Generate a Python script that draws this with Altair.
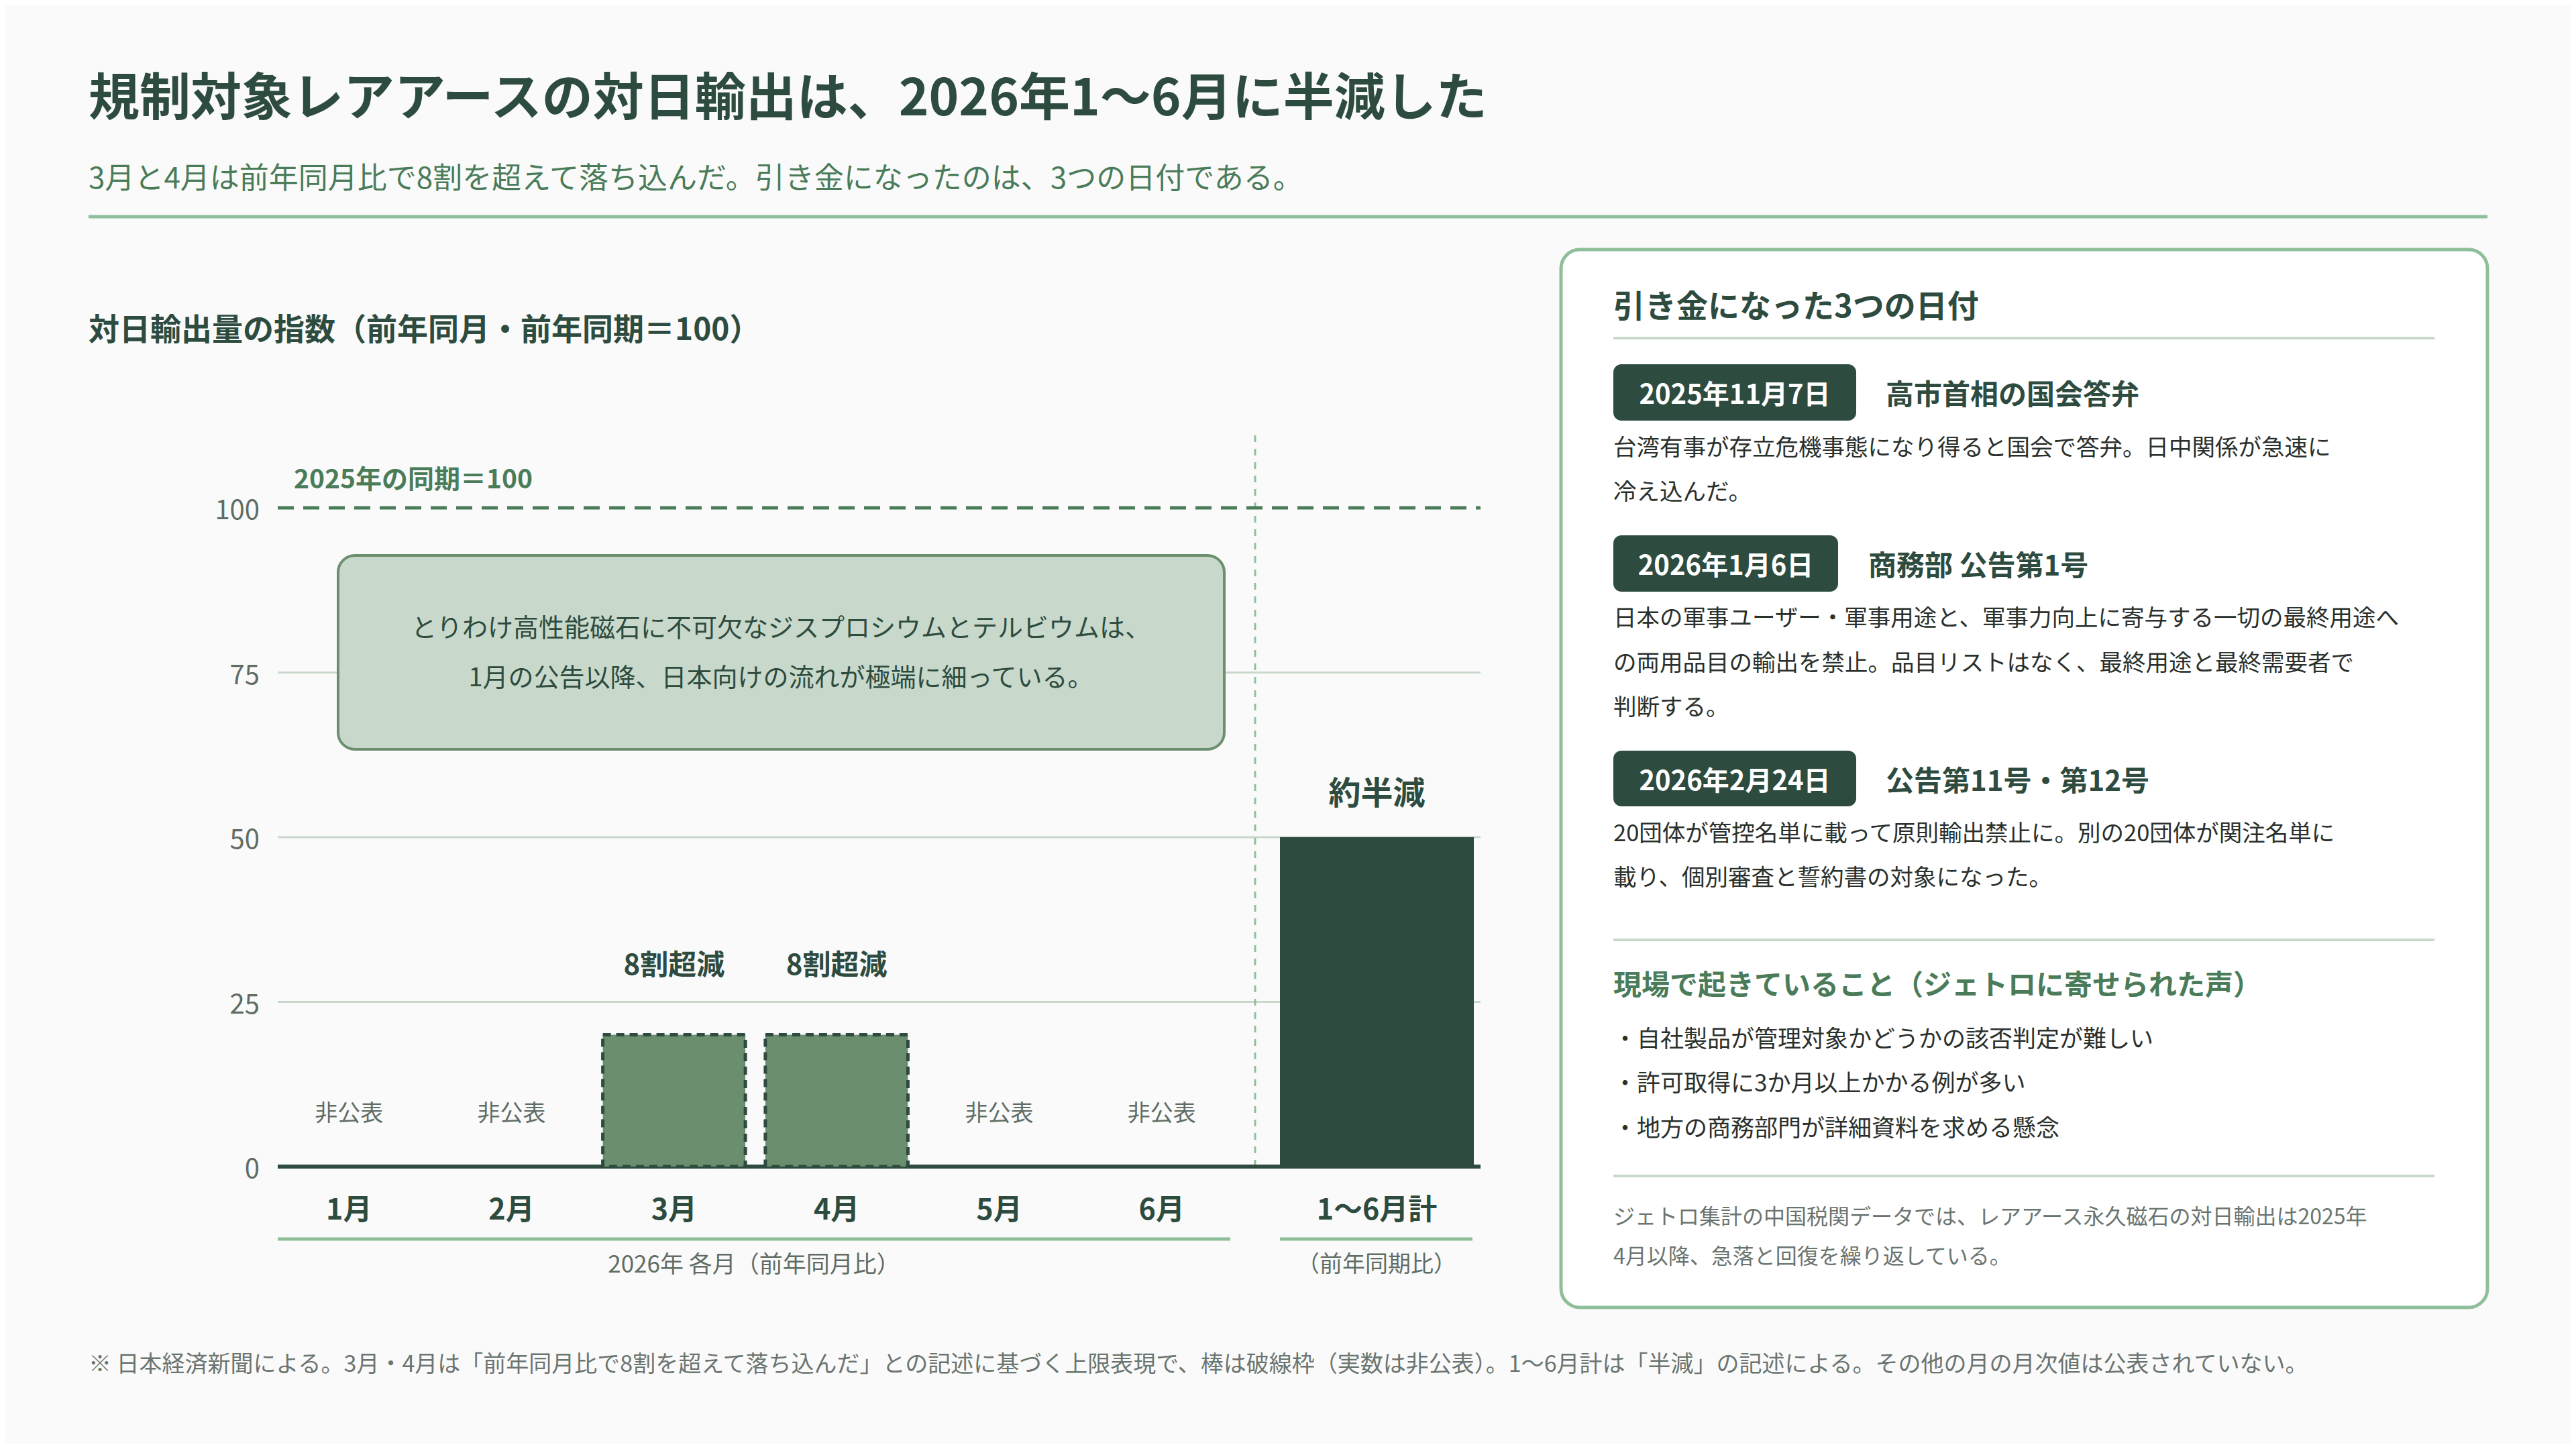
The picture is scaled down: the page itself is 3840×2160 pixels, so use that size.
import altair as alt
import pandas as pd

# ---------------- data ----------------
TITLE = "規制対象レアアースの対日輸出は、2026年1〜6月に半減した"
SUBTITLE = "3月と4月は前年同月比で8割を超えて落ち込んだ。引き金になったのは、3つの日付である。"
CHART_HEADING = "対日輸出量の指数（前年同月・前年同期＝100）"

MONTHS = ["1月", "2月", "3月", "4月", "5月", "6月"]
MONTH_INDEX = [None, None, 20, 20, None, None]
MONTH_STATUS = ["非公表", "非公表", "8割超減", "8割超減", "非公表", "非公表"]

TOTAL_LABEL = ["1〜6月計"]
TOTAL_INDEX = [50]
TOTAL_STATUS = ["約半減"]

Y_TICKS = [0, 25, 50, 75, 100]
BASE_LABEL = "2025年の同期＝100"
MONTH_GROUP = "2026年 各月（前年同月比）"
TOTAL_GROUP = "（前年同期比）"
CALLOUT = [
    "とりわけ高性能磁石に不可欠なジスプロシウムとテルビウムは、",
    "1月の公告以降、日本向けの流れが極端に細っている。",
]

PANEL_TITLE = "引き金になった3つの日付"
EVENT_DATES = ["2025年11月7日", "2026年1月6日", "2026年2月24日"]
EVENT_TITLES = ["高市首相の国会答弁", "商務部 公告第1号", "公告第11号・第12号"]
EVENT_BODIES = [
    ["台湾有事が存立危機事態になり得ると国会で答弁。日中関係が急速に", "冷え込んだ。"],
    ["日本の軍事ユーザー・軍事用途と、軍事力向上に寄与する一切の最終用途へ",
     "の両用品目の輸出を禁止。品目リストはなく、最終用途と最終需要者で",
     "判断する。"],
    ["20団体が管控名単に載って原則輸出禁止に。別の20団体が関注名単に",
     "載り、個別審査と誓約書の対象になった。"],
]
VOICES_TITLE = "現場で起きていること（ジェトロに寄せられた声）"
VOICES = [
    "・自社製品が管理対象かどうかの該否判定が難しい",
    "・許可取得に3か月以上かかる例が多い",
    "・地方の商務部門が詳細資料を求める懸念",
]
PANEL_NOTE = [
    "ジェトロ集計の中国税関データでは、レアアース永久磁石の対日輸出は2025年",
    "4月以降、急落と回復を繰り返している。",
]
FOOTNOTE = ("※ 日本経済新聞による。3月・4月は「前年同月比で8割を超えて落ち込んだ」との記述に基づく"
            "上限表現で、棒は破線枠（実数は非公表）。1〜6月計は「半減」の記述による。"
            "その他の月の月次値は公表されていない。")

# ---------------- style ----------------
FONT = "Noto Sans CJK JP"
DARK = "#2d4b3e"
GREEN = "#4a7c59"
MID = "#6b8f6e"
LIGHT = "#8fbf9a"
PALE = "#c8d9cc"
GRAY = "#5f6d65"
BODY = "#2a302c"
NOTE = "#6b7570"
BG = "#fafafa"
DY = 5

W, H = 3824, 2144
one = alt.Data(values=[{"k": 0}])


def txt(s, x, y, size, color, weight="normal", align="left"):
    return alt.Chart(alt.Data(values=[{"t": s}])).mark_text(
        font=FONT, fontSize=size, color=color, fontWeight=weight,
        align=align, baseline="middle", dy=DY
    ).encode(text="t:N", x=alt.value(x), y=alt.value(y))


def hline(x1, x2, y, color, width):
    return alt.Chart(one).mark_rule(color=color, strokeWidth=width).encode(
        x=alt.value(x1), x2=alt.value(x2), y=alt.value(y))


def box(x1, x2, y1, y2, fill, stroke=None, sw=0, radius=0):
    kw = dict(fill=fill, cornerRadius=radius)
    if stroke:
        kw.update(stroke=stroke, strokeWidth=sw)
    return alt.Chart(one).mark_rect(**kw).encode(
        x=alt.value(x1), x2=alt.value(x2), y=alt.value(y1), y2=alt.value(y2))


# scales
yscale = alt.Scale(domain=[0, 100], range=[1731, 749], nice=False, zero=True)
PX0, PX1 = 406, 2199


def xm(field="month"):
    return alt.X(f"{field}:N", axis=None,
                 scale=alt.Scale(type="band", domain=MONTHS, range=[PX0, 1830],
                                 paddingInner=0.123, paddingOuter=0))


def xt(field="label"):
    return alt.X(f"{field}:N", axis=None,
                 scale=alt.Scale(type="band", domain=TOTAL_LABEL, range=[1900, 2189],
                                 paddingInner=0, paddingOuter=0))


month_df = pd.DataFrame({"month": MONTHS, "value": MONTH_INDEX, "status": MONTH_STATUS})
total_df = pd.DataFrame({"label": TOTAL_LABEL, "value": TOTAL_INDEX, "status": TOTAL_STATUS})
tick_df = pd.DataFrame({"v": Y_TICKS})

layers = []

# header
layers.append(txt(TITLE, 124, 136, 76, DARK, "bold"))
layers.append(txt(SUBTITLE, 124, 255, 44, GREEN))
layers.append(hline(124, 3700, 315, LIGHT, 5))
layers.append(txt(CHART_HEADING, 124, 480, 46, DARK, "bold"))

# gridlines
ticks = alt.Chart(tick_df)
layers.append(ticks.transform_filter("datum.v > 0 && datum.v < 100").mark_rule(
    color=PALE, strokeWidth=3).encode(
    y=alt.Y("v:Q", scale=yscale, axis=None), x=alt.value(PX0), x2=alt.value(PX1)))
layers.append(ticks.mark_text(font=FONT, fontSize=40, color=GRAY, align="right",
                              baseline="middle", dy=DY).encode(
    y=alt.Y("v:Q", scale=yscale, axis=None), x=alt.value(379), text="v:Q"))

# vertical divider
layers.append(alt.Chart(one).mark_rule(color=LIGHT, strokeWidth=3, strokeDash=[10, 10]).encode(
    x=alt.value(1863), y=alt.value(641), y2=alt.value(1731)))

# 100 dashed baseline
layers.append(ticks.transform_filter("datum.v == 100").mark_rule(
    color=GREEN, strokeWidth=5, strokeDash=[24, 14]).encode(
    y=alt.Y("v:Q", scale=yscale, axis=None), x=alt.value(PX0), x2=alt.value(PX1)))
layers.append(txt(BASE_LABEL, 430, 703, 39, GREEN, "bold"))

# callout
layers.append(box(496, 1817, 820, 1109, PALE, MID, 4, 25))
layers.append(txt(CALLOUT[0], 1156, 925, 38, DARK, align="center"))
layers.append(txt(CALLOUT[1], 1156, 999, 38, DARK, align="center"))

# zero baseline
layers.append(ticks.transform_filter("datum.v == 0").mark_rule(
    color=DARK, strokeWidth=6).encode(
    y=alt.Y("v:Q", scale=yscale, axis=None), x=alt.value(PX0), x2=alt.value(PX1)))

# month bars
mchart = alt.Chart(month_df)
layers.append(mchart.transform_filter("datum.value != null").mark_bar(
    color=MID, stroke=DARK, strokeWidth=5, strokeDash=[12, 8]).encode(
    x=xm(), y=alt.Y("value:Q", scale=yscale, axis=None)))
layers.append(mchart.transform_filter("datum.value != null").mark_text(
    font=FONT, fontSize=42, fontWeight="bold", color=DARK, baseline="middle",
    dy=-108 + DY).encode(
    x=xm(), y=alt.Y("value:Q", scale=yscale, axis=None), text="status:N"))
layers.append(mchart.transform_filter("datum.status == '非公表'").mark_text(
    font=FONT, fontSize=34, color=GRAY, baseline="middle", dy=DY).encode(
    x=xm(), y=alt.value(1648), text="status:N"))
layers.append(mchart.mark_text(
    font=FONT, fontSize=43, fontWeight="bold", color=DARK, baseline="middle", dy=DY).encode(
    x=xm(), y=alt.value(1792), text="month:N"))

# total bar
tchart = alt.Chart(total_df)
layers.append(tchart.mark_bar(color=DARK).encode(
    x=xt(), y=alt.Y("value:Q", scale=yscale, axis=None)))
layers.append(tchart.mark_text(
    font=FONT, fontSize=48, fontWeight="bold", color=DARK, baseline="middle",
    dy=-68 + DY).encode(
    x=xt(), y=alt.Y("value:Q", scale=yscale, axis=None), text="status:N"))
layers.append(tchart.mark_text(
    font=FONT, fontSize=43, fontWeight="bold", color=DARK, baseline="middle", dy=DY).encode(
    x=xt(), y=alt.value(1792), text="label:N"))

# group underlines and labels
layers.append(hline(PX0, 1826, 1839, LIGHT, 5))
layers.append(hline(1900, 2187, 1839, LIGHT, 5))
layers.append(txt(MONTH_GROUP, 1116, 1873, 35, GRAY, align="center"))
layers.append(txt(TOTAL_GROUP, 2044, 1873, 34, GRAY, align="center"))

# right panel
layers.append(box(2319, 3700, 364, 1941, "#ffffff", LIGHT, 5, 28))
layers.append(txt(PANEL_TITLE, 2397, 446, 47, DARK, "bold"))
layers.append(hline(2397, 3621, 496, PALE, 4))

badge_rows = [(535, 619, 2759, 2803), (790, 874, 2732, 2777), (1111, 1194, 2759, 2803)]
body_rows = [[656, 722], [910, 977, 1043], [1231, 1297]]
for i in range(3):
    y1, y2, bx2, tx = badge_rows[i]
    yc = (y1 + y2) / 2
    layers.append(box(2397, bx2, y1, y2, DARK, radius=12))
    layers.append(txt(EVENT_DATES[i], (2397 + bx2) / 2, yc, 40, "#ffffff", "bold", "center"))
    layers.append(txt(EVENT_TITLES[i], tx, yc, 42, DARK, "bold"))
    for line, yy in zip(EVENT_BODIES[i], body_rows[i]):
        layers.append(txt(line, 2397, yy, 34.5, BODY))

layers.append(hline(2397, 3621, 1393, PALE, 4))
layers.append(txt(VOICES_TITLE, 2397, 1457, 42, GREEN, "bold"))
for line, yy in zip(VOICES, [1537, 1603, 1670]):
    layers.append(txt(line, 2397, yy, 35, BODY))
layers.append(hline(2397, 3621, 1745, PALE, 4))
for line, yy in zip(PANEL_NOTE, [1802, 1861]):
    layers.append(txt(line, 2397, yy, 32, NOTE))

# footnote
layers.append(txt(FOOTNOTE, 124, 2022, 34, NOTE))

chart = alt.layer(*layers).properties(
    width=W, height=H, padding=0, background=BG,
    autosize=alt.AutoSizeParams(type="none"),
).resolve_scale(x="independent").configure_view(strokeWidth=0)

chart.save("out.html", embed_options={"renderer": "svg", "actions": False})
